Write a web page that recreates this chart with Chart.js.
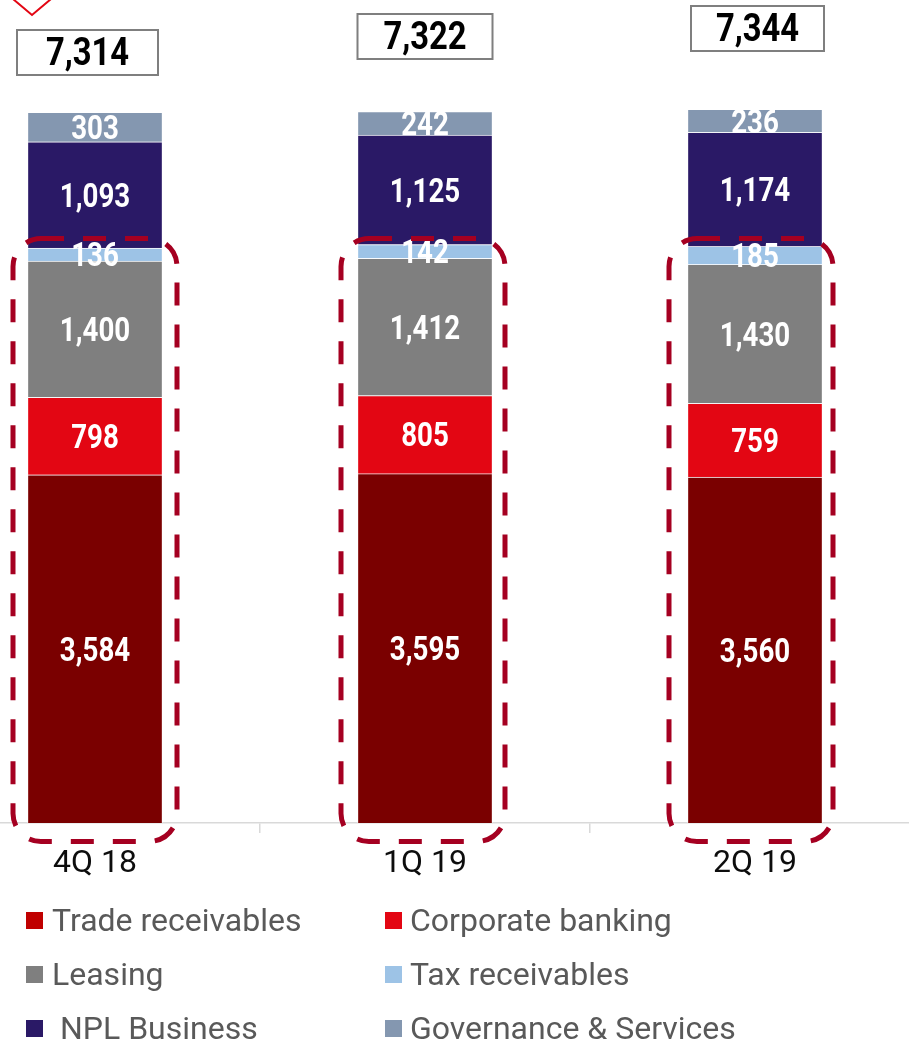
<!DOCTYPE html>
<html>
<head>
<meta charset="utf-8">
<script src="https://cdn.jsdelivr.net/npm/chart.js@4.4.1/dist/chart.umd.min.js"></script>
<style>
  html, body { margin: 0; padding: 0; background: #fff; overflow: hidden; width: 909px; height: 1042px; }
  #wrap { position: absolute; left: -70px; top: 0; width: 990px; height: 1042px; }
</style>
</head>
<body>
<div id="wrap"><canvas id="c"></canvas></div>
<script>
// Quarters and segment values (EUR m)
const quarters = ['4Q 18', '1Q 19', '2Q 19'];
const tradeReceivables   = [3584, 3595, 3560];
const corporateBanking   = [798, 805, 759];
const leasing            = [1400, 1412, 1430];
const taxReceivables     = [136, 142, 185];
const nplBusiness        = [1093, 1125, 1174];
const governanceServices = [303, 242, 236];
const totals             = [7314, 7322, 7344];

// Canvas is shifted left so that the category bands line up with the page
const SHIFT = 70;

const series = [
  { label: 'Trade receivables',      data: tradeReceivables,   color: '#7a0000', key: '#c00000' },
  { label: 'Corporate banking',      data: corporateBanking,   color: '#e30613', key: '#e30613' },
  { label: 'Leasing',                data: leasing,            color: '#7f7f7f', key: '#7f7f7f' },
  { label: 'Tax receivables',        data: taxReceivables,     color: '#9dc3e6', key: '#9dc3e6' },
  { label: ' NPL Business',          data: nplBusiness,        color: '#2a1966', key: '#2a1966' },
  { label: 'Governance & Services',  data: governanceServices, color: '#8497b0', key: '#8497b0' }
];

const fmt = v => v.toLocaleString('en-US');

// Total boxes above each bar
const totalBox = { top: [30, 14, 6], width: [141, 135, 133], dx: [-7.5, 0, 2.5], height: 45 };
// Dashed frames around the core segments
const frame = { top: 238.5, bottom: 841.5, half: 82, radius: 28, dx: [0, -2, -4] };

const overlay = {
  id: 'overlay',
  afterDatasetsDraw(chart) {
    const ctx = chart.ctx;
    // segment values
    chart.data.datasets.forEach((ds, di) => {
      const meta = chart.getDatasetMeta(di);
      meta.data.forEach((el, i) => {
        const p = el.getProps(['x', 'y', 'base'], true);
        ctx.save();
        ctx.translate(p.x, (p.y + p.base) / 2 + 3.5);
        ctx.scale(0.84, 1);
        ctx.font = 'bold 33px Roboto';
        ctx.fillStyle = '#ffffff';
        ctx.textAlign = 'center';
        ctx.textBaseline = 'middle';
        ctx.fillText(fmt(ds.data[i]), 0, 0);
        ctx.restore();
      });
    });

    const base = chart.getDatasetMeta(0).data;

    // dashed rounded frames
    base.forEach((el, i) => {
      const cx = el.x + frame.dx[i];
      ctx.save();
      ctx.strokeStyle = '#a50021';
      ctx.lineWidth = 5;
      ctx.setLineDash([23, 19]);
      ctx.beginPath();
      ctx.roundRect(cx - frame.half, frame.top, frame.half * 2, frame.bottom - frame.top, frame.radius);
      ctx.stroke();
      ctx.restore();
    });

    // totals
    base.forEach((el, i) => {
      const cx = el.x + totalBox.dx[i];
      const w = totalBox.width[i];
      const t = totalBox.top[i];
      ctx.save();
      ctx.fillStyle = '#ffffff';
      ctx.strokeStyle = '#7f7f7f';
      ctx.lineWidth = 2;
      ctx.fillRect(cx - w / 2, t, w, totalBox.height);
      ctx.strokeRect(cx - w / 2, t, w, totalBox.height);
      ctx.translate(cx, t + totalBox.height / 2 + 3);
      ctx.scale(0.84, 1);
      ctx.font = 'bold 39px Roboto';
      ctx.fillStyle = '#000000';
      ctx.textAlign = 'center';
      ctx.textBaseline = 'middle';
      ctx.fillText(fmt(totals[i]), 0, 0);
      ctx.restore();
    });

    // red chevron at the top edge
    ctx.save();
    ctx.strokeStyle = '#e30613';
    ctx.lineWidth = 2;
    ctx.beginPath();
    ctx.moveTo(13 + SHIFT, -1);
    ctx.lineTo(32 + SHIFT, 15);
    ctx.lineTo(51 + SHIFT, -1);
    ctx.stroke();
    ctx.restore();

    // legend, two columns
    const colMarker = [26, 385], colText = [52, 410], rowY = [920, 974, 1028];
    chart.data.datasets.forEach((ds, di) => {
      const col = di % 2, row = Math.floor(di / 2);
      const y = rowY[row];
      ctx.save();
      ctx.fillStyle = ds.keyColor;
      ctx.fillRect(colMarker[col] + SHIFT, y - 8, 17, 17);
      ctx.font = '32px Roboto';
      ctx.fillStyle = '#595959';
      ctx.textAlign = 'left';
      ctx.textBaseline = 'middle';
      ctx.fillText(ds.label, colText[col] + SHIFT, y + 3);
      ctx.restore();
    });
  }
};

new Chart(document.getElementById('c'), {
  type: 'bar',
  data: {
    labels: quarters,
    datasets: series.map(s => ({
      label: s.label,
      data: s.data,
      backgroundColor: s.color,
      keyColor: s.key,
      borderColor: 'rgba(255,255,255,0.5)',
      borderWidth: 1,
      barThickness: 135
    }))
  },
  options: {
    responsive: true,
    maintainAspectRatio: false,
    devicePixelRatio: 1,
    animation: false,
    layout: { padding: { top: 0, bottom: 139, left: 0, right: 0 } },
    plugins: { legend: { display: false }, tooltip: { enabled: false } },
    scales: {
      x: {
        stacked: true,
        grid: { display: true, drawOnChartArea: false, drawTicks: true, tickLength: 10, color: '#d9d9d9', lineWidth: 1.5 },
        border: { display: true, color: '#d9d9d9', width: 1.5 },
        ticks: { color: '#0d0d0d', font: { family: 'Roboto', size: 32 }, padding: 12 },
        afterFit(scale) { scale.height = 80; }
      },
      y: { stacked: true, display: false, min: 0, max: 8470 }
    }
  },
  plugins: [overlay]
});
</script>
</body>
</html>
